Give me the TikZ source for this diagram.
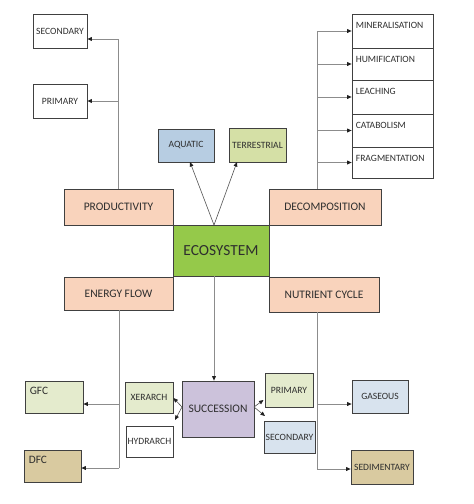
\documentclass[tikz,border=0pt]{standalone}
\usepackage{fontspec}
\setmainfont{Carlito}
\usetikzlibrary{arrows.meta}
\definecolor{bd}{HTML}{404040}
\definecolor{tx}{HTML}{2E2E2E}
\definecolor{ln}{HTML}{8C8C8C}
\definecolor{dk}{HTML}{505050}
\definecolor{tip}{HTML}{202020}
\definecolor{peach}{HTML}{F9D3BC}
\definecolor{ecog}{HTML}{95C94A}
\definecolor{aqua}{HTML}{B7CDE2}
\definecolor{terr}{HTML}{D5E0A6}
\definecolor{lgreen}{HTML}{E4EBCD}
\definecolor{tan}{HTML}{D9CAA0}
\definecolor{lav}{HTML}{CCC2DB}
\definecolor{lblue}{HTML}{D8E3EE}
\begin{document}
\begin{tikzpicture}[x=1pt,y=-1pt,
  bx/.style={draw=bd, line width=0.7pt, text=tx, inner sep=1pt, font=\fontsize{9.6}{10}\selectfont},
  bxm/.style={bx, font=\fontsize{11.5}{12}\selectfont},
  celltext/.style={anchor=north west, inner xsep=4pt, inner ysep=8.5pt, text=tx, font=\fontsize{9.6}{10}\selectfont},
  celltextm/.style={anchor=north west, inner xsep=5pt, inner ysep=6pt, text=tx, font=\fontsize{11.3}{12}\selectfont},
  conn/.style={draw=ln, line width=0.8pt},
  arr/.style={conn, -{Triangle[length=4.5pt,width=3.8pt,color=tip]}},
  darr/.style={draw=dk, line width=0.6pt, -{Triangle[length=4.5pt,width=3.8pt,color=tip]}}
]
\useasboundingbox (0,0) rectangle (474,504);

% top-left boxes
\node[bx, minimum width=54pt, minimum height=34pt] (sec1) at (60,31) {SECONDARY};
\node[bx, minimum width=54pt, minimum height=34pt] (pri1) at (60,101) {PRIMARY};

% right stack
\node[bx, minimum width=81pt, minimum height=34pt, label={[celltext]north west:MINERALISATION}] (mine) at (392.5,31) {};
\node[bx, minimum width=81pt, minimum height=32pt, label={[celltext]north west:HUMIFICATION}] (humi) at (392.5,64) {};
\node[bx, minimum width=81pt, minimum height=34pt, label={[celltext]north west:LEACHING}] (leach) at (392.5,97) {};
\node[bx, minimum width=81pt, minimum height=33pt, label={[celltext]north west:CATABOLISM}] (cata) at (392.5,130.5) {};
\node[bx, minimum width=81pt, minimum height=31pt, label={[celltext]north west:FRAGMENTATION}] (frag) at (392.5,162.5) {};

% aquatic / terrestrial
\node[bx, fill=aqua, minimum width=56pt, minimum height=33pt] (aq) at (186,145.5) {AQUATIC};
\node[bx, fill=terr, minimum width=57pt, minimum height=34pt] (te) at (257.5,145) {TERRESTRIAL};

% central cluster
\node[bxm, fill=peach, minimum width=109pt, minimum height=36pt] (prod) at (118.5,207) {PRODUCTIVITY};
\node[bxm, fill=peach, minimum width=112pt, minimum height=36pt] (deco) at (325,207) {DECOMPOSITION};
\node[bx, fill=ecog, minimum width=96pt, minimum height=51pt, font=\fontsize{15.4}{16}\selectfont] (eco) at (221,250.5) {ECOSYSTEM};
\node[bxm, fill=peach, minimum width=109pt, minimum height=33pt] (ener) at (118.5,293.5) {ENERGY FLOW};
\node[bxm, fill=peach, minimum width=110pt, minimum height=35pt] (nutr) at (324,294.5) {NUTRIENT CYCLE};

% bottom
\node[bx, fill=lgreen, minimum width=58pt, minimum height=32pt, label={[celltextm]north west:GFC}] (gfc) at (54,397) {};
\node[bx, fill=tan, minimum width=57pt, minimum height=32pt, label={[celltextm]north west:DFC}] (dfc) at (52.5,466) {};
\node[bx, fill=lgreen, minimum width=48pt, minimum height=31pt] (xer) at (149,397.5) {XERARCH};
\node[bx, minimum width=47pt, minimum height=31pt] (hyd) at (149.5,441.5) {HYDRARCH};
\node[bxm, fill=lav, minimum width=72pt, minimum height=56pt] (succ) at (218,409) {SUCCESSION};
\node[bx, fill=lgreen, minimum width=48pt, minimum height=34pt] (pri2) at (289,390) {PRIMARY};
\node[bx, fill=lblue, minimum width=51pt, minimum height=32pt] (sec2) at (289.5,437) {SECONDARY};
\node[bx, fill=lblue, minimum width=56pt, minimum height=33pt] (gas) at (380,396.5) {GASEOUS};
\node[bx, fill=tan, minimum width=62pt, minimum height=34pt] (sed) at (382,467) {SEDIMENTARY};

% productivity branch
\coordinate (pj1) at (118,39);
\coordinate (pj2) at (118,101);
\draw[conn] (pj1 |- prod.north) -- (pj1);
\draw[arr] (pj1) -- (pj1 -| sec1.east);
\draw[arr] (pj2) -- (pj2 -| pri1.east);

% decomposition branch
\coordinate (dj) at (317,31);
\draw[conn] (dj |- deco.north) -- (dj);
\draw[arr] (dj) -- (mine.west);
\draw[arr] (dj |- humi.west) -- (humi.west);
\draw[arr] (dj |- leach.west) -- (leach.west);
\draw[arr] (dj |- cata.west) -- (cata.west);
\draw[arr] (dj |- frag.west) -- (frag.west);

% ecosystem to aquatic / terrestrial
\coordinate (et) at (214,225);
\coordinate (aqb) at (190,162);
\coordinate (teb) at (237,162);
\draw[darr] (et) -- (aqb);
\draw[darr] (et) -- (teb);

% ecosystem to succession
\draw[arr] (et |- eco.south) -- (et |- succ.north);

% energy flow branch
\coordinate (ej1) at (119,404);
\coordinate (ej2) at (119,468);
\draw[conn] (ej1 |- ener.south) -- (ej2);
\draw[arr] (ej1) -- (ej1 -| gfc.east);
\draw[arr] (ej2) -- (ej2 -| dfc.east);

% nutrient branch
\coordinate (nj1) at (317,404);
\coordinate (nj2) at (317,469);
\draw[conn] (nj1 |- nutr.south) -- (nj2);
\draw[arr] (nj1) -- (nj1 -| gas.west);
\draw[arr] (nj2) -- (nj2 -| sed.west);

% succession arrows
\coordinate (sl) at (182,407);
\coordinate (sr) at (254,407);
\coordinate (xa) at (173.5,398);
\coordinate (ha) at (175,420);
\coordinate (pa) at (263.5,400);
\coordinate (qa) at (265,416);
\draw[darr] (sl) -- (xa);
\draw[darr] (sl) -- (ha);
\draw[darr] (sr) -- (pa);
\draw[darr] (sr) -- (qa);
\end{tikzpicture}
\end{document}
